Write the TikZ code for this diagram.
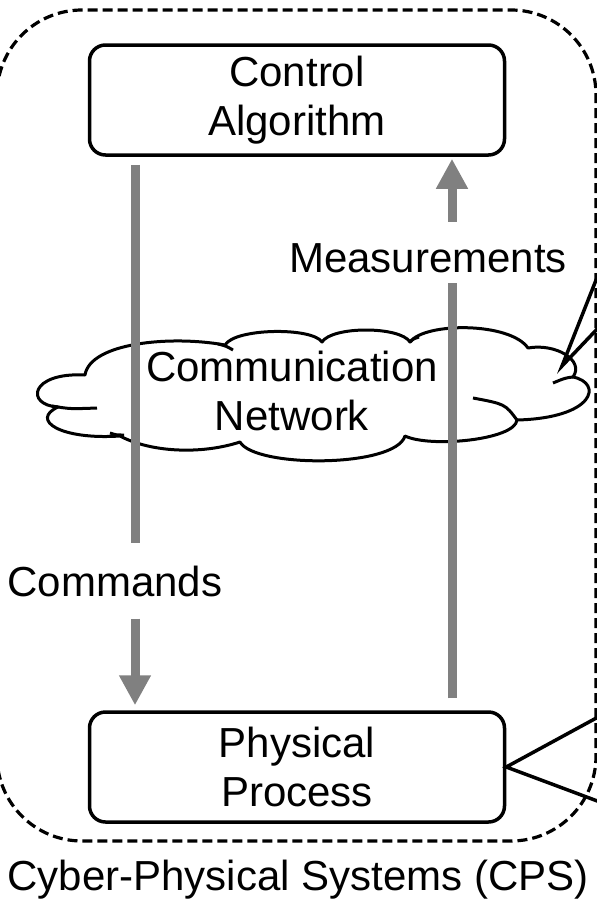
\documentclass[tikz,border=0pt]{standalone}
\usepackage{fontspec}
\setmainfont{Liberation Sans}
\usetikzlibrary{arrows.meta}
\usetikzlibrary{calc}

\begin{document}
\begin{tikzpicture}
		[x = 1pt, y = -1pt,
		 txt/.style = {font=\fontsize{42}{49}\selectfont, align=center},
		 box/.style = {draw, line width=3.5pt, rounded corners=16pt, minimum width=415pt, minimum height=110pt, txt},
		 flow/.style = {draw=gray, line width=9pt},
		 flowtip/.style = {flow, -{Triangle[width=30pt, length=30pt]}},
		 puff/.style = {line width=3pt, line join=round},
		 callout/.style = {line width=3.5pt}]
		\useasboundingbox (0,0) rectangle (597,900);
		\clip (0,0) rectangle (597,900);
		\coordinate (k1) at (-3,10);
		\coordinate (k2) at (596,841);
		\coordinate (down) at (135,0);
		\coordinate (up) at (452,0);
		\coordinate (t1) at (600,270);
		\coordinate (t2) at (600,326);
		\coordinate (t3) at (600,716);
		\coordinate (t4) at (600,802);
		\coordinate (tip) at (562,366);

		\draw[line width=3.2pt, dash pattern=on 10pt off 5pt, rounded corners=85pt] (k1) rectangle (k2);

		\draw[puff, fill=white] (85,375) .. controls (90,343) and (170,335) .. (225,345)
			.. controls (235,328) and (312,327) .. (322,342)
			.. controls (332,326) and (400,326) .. (410,342)
			.. controls (425,322) and (510,322) .. (528,348)
			.. controls (555,343) and (585,360) .. (573,377)
			.. controls (603,383) and (595,418) .. (517,420)
			.. controls (515,440) and (430,448) .. (405,436)
			.. controls (395,468) and (255,468) .. (240,442)
			.. controls (200,455) and (150,452) .. (120,436)
			.. controls (60,440) and (30,420) .. (58,407)
			.. controls (25,405) and (30,372) .. (85,375) -- cycle;
		\draw[puff] (52,406) .. controls (70,409) .. (97,408);
		\draw[puff] (573,377) .. controls (565,378) .. (553,383);
		\draw[puff] (517,420) .. controls (505,404) .. (473,398);
		\draw[puff] (218,344) .. controls (226,346) .. (233,350);
		\draw[puff] (410,342) .. controls (413,339) .. (419,337);
		\draw[puff] (110,433) .. controls (116,435) .. (124,435);

		\path
		(297,100) node[box](alg) {Control\\Algorithm}
		(297,767) node[box](proc) {Physical\\Process}
		(292,391) node[txt](net) {Communication\\Network}
		(115,596) node[txt, anchor=base, inner sep=0](cmd) {Commands}
		(428,272) node[txt, anchor=base, inner sep=0](meas) {Measurements}
		(298,890) node[txt, anchor=base](cps) {Cyber-Physical Systems (CPS)};

		\draw[flow, shorten <=8pt, shorten >=22pt] (alg.south -| down) to (cmd.north -| down);
		\draw[flowtip, shorten <=22pt, shorten >=5pt] (cmd.south -| down) to (proc.north -| down);
		\draw[flow, shorten <=12pt, shorten >=10pt] (proc.north -| up) to (meas.south -| up);
		\draw[flowtip, shorten <=21pt, shorten >=2pt] (meas.north -| up) to (alg.south -| up);

		\draw[callout] (t1) to (tip) to (t2);
		\draw[callout] (t3) to (proc.east) to (t4);
	\end{tikzpicture}
\end{document}
